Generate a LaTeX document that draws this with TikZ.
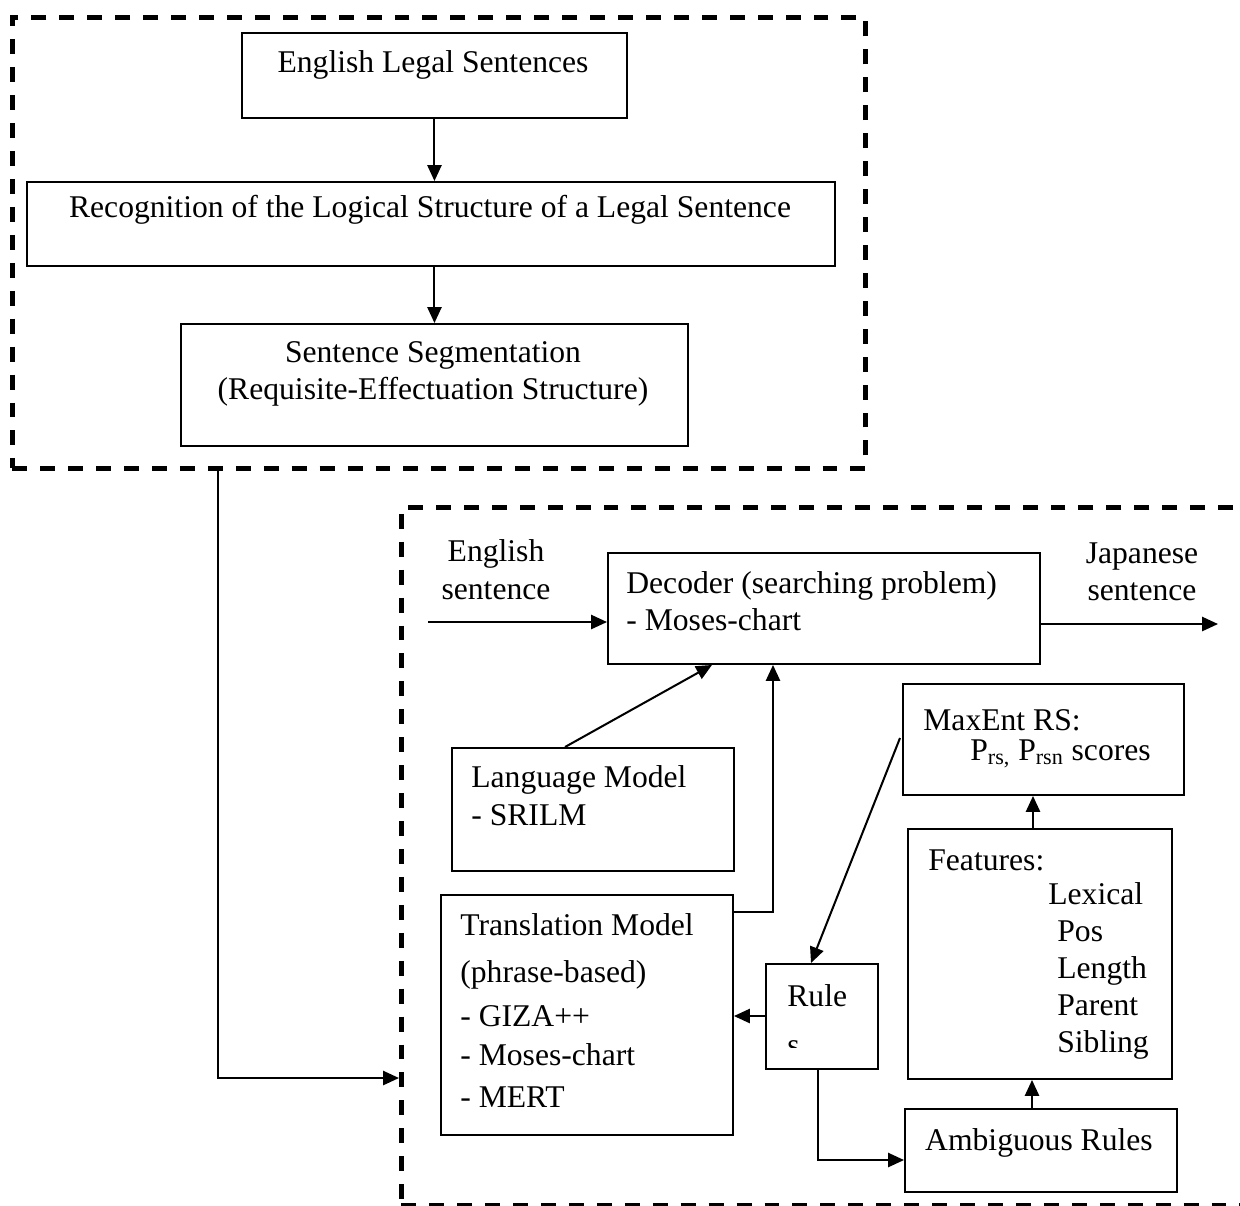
\documentclass[tikz,border=0pt]{standalone}
\usepackage{fontspec}
\setmainfont{Liberation Serif}
\usetikzlibrary{arrows.meta,calc}

\newcommand{\fs}{\fontsize{18}{20.7}\selectfont}

\tikzset{
  box/.style={draw, rectangle, line width=1.1pt, inner sep=0pt, anchor=north west},
  group/.style={draw, rectangle, line width=2.7pt, dash pattern=on 8.5pt off 7.4pt,
    inner sep=0pt, anchor=north west},
  arr/.style={line width=1.15pt, -{Triangle[length=9pt,width=8pt]}},
  txt/.style={inner sep=0pt, anchor=base west, font=\fs},
  ctxt/.style={inner sep=0pt, anchor=base, font=\fs},
}

% \boxat[style]{name}{x1}{y1}{x2}{y2}: rectangle given by its corners
\newcommand{\boxat}[6][box]{%
  \node[#1, minimum width={(#5-#3)*0.02cm}, minimum height={(#6-#4)*0.02cm}] (#2) at (#3,#4) {};}

\begin{document}
\begin{tikzpicture}[x=0.02cm, y=-0.02cm]
\useasboundingbox (0,0) rectangle (1240,1205);

% ---- dashed groups
\boxat[group]{top}{10}{15}{863}{466}
\boxat[group]{low}{399}{505}{1262}{1203}

% ---- preprocessing stage
\boxat{eng}{241}{32}{626}{117}
\boxat{rec}{26}{181}{834}{265}
\boxat{seg}{180}{323}{687}{445}

\node[ctxt] (engT) at (433,72) {English Legal Sentences};
\node[ctxt] (recT) at (430,217) {Recognition of the Logical Structure of a Legal Sentence};
\node[ctxt] (segT1) at (433,362) {Sentence Segmentation};
\node[ctxt] (segT2) at (433,399) {(Requisite-Effectuation Structure)};

\draw[arr] (eng.south) -- (eng.south |- rec.north);
\draw[arr] (rec.south -| seg.north) -- (seg.north);

% ---- translation stage
\boxat{dec}{607}{552}{1039}{663}
\boxat{lm}{451}{747}{733}{870}
\boxat{tm}{440}{894}{732}{1134}
\boxat{rules}{765}{963}{877}{1068}
\boxat{maxent}{902}{683}{1183}{794}
\boxat{feat}{907}{828}{1171}{1078}
\boxat{amb}{904}{1108}{1176}{1191}

\node[ctxt] (inT1) at (496,561) {English};
\node[ctxt] (inT2) at (496,599) {sentence};
\node[ctxt] (outT1) at (1142,563) {Japanese};
\node[ctxt] (outT2) at (1142,600) {sentence};

\node[txt] (decT1) at (626,593) {Decoder (searching problem)};
\node[txt] (decT2) at (626,630) {- Moses-chart};

\node[txt] (lmT1) at (471,787) {Language Model};
\node[txt] (lmT2) at (471,825) {- SRILM};

\node[txt] (tmT1) at (460,935) {Translation Model};
\node[txt] (tmT2) at (460,982) {(phrase-based)};
\node[txt] (tmT3) at (460,1026) {- GIZA++};
\node[txt] (tmT4) at (460,1065) {- Moses-chart};
\node[txt] (tmT5) at (460,1107) {- MERT};

% text box that cuts off its overflowing second line
\begin{scope}
  \clip (765,963) rectangle (877,1047);
  \node[txt] (ruT1) at (787,1006) {Rule};
  \node[txt] (ruT2) at (787,1055) {s};
\end{scope}

\node[txt] (meT1) at (923,730) {MaxEnt RS:};
\node[txt] (meT2) at (970,760) {P\textsubscript{rs,} P\textsubscript{rsn} scores};

\node[txt] (feT0) at (928,870) {Features:};
\node[txt] (feT1) at (1048,904) {Lexical};
\node[txt] (feT2) at (1057,941) {Pos};
\node[txt] (feT3) at (1057,978) {Length};
\node[txt] (feT4) at (1057,1015) {Parent};
\node[txt] (feT5) at (1057,1052) {Sibling};

\node[ctxt] (ambT) at (1039,1150) {Ambiguous Rules};

% ---- connectors
\coordinate (ein) at (428,622);
\coordinate (jout) at (1218,624);
\draw[arr] (ein) -- (ein -| dec.west);
\draw[arr] (jout -| dec.east) -- (jout);

\draw[arr] ($(lm.north west)+(114,0)$) -- ($(dec.south west)+(105,0)$);
\draw[arr] ($(tm.north east)+(0,18)$) -| ($(dec.south west)+(166,0)$);
\draw[arr] ($(maxent.north west)+(-2,55)$) -- ($(rules.north west)+(46,0)$);
\coordinate (rw) at ($(rules.north west)+(0,53)$);
\draw[arr] (rw) -- (rw -| tm.east);
\draw[arr] ($(rules.south west)+(53,0)$) |- ($(amb.north west)+(0,52)$);
\draw[arr] ($(amb.north west)+(128,0)$) -- ($(feat.south west)+(125,0)$);
\draw[arr] ($(feat.north west)+(126,0)$) -- ($(maxent.south west)+(131,0)$);

\draw[arr] ($(top.south west)+(208,0)$) |- ($(low.north west)+(0,573)$);
\end{tikzpicture}
\end{document}
